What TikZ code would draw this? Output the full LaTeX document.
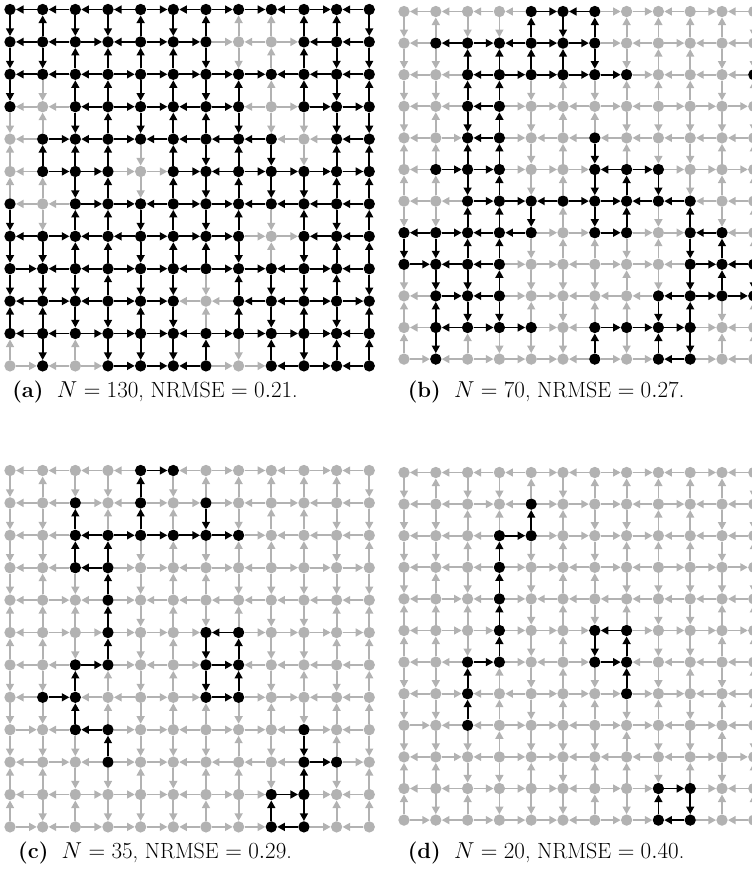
\documentclass[tikz,border=0pt]{standalone}
\usetikzlibrary{arrows.meta}
\definecolor{lg}{RGB}{178,178,178}
\tikzset{
  bn/.style={circle,fill=black,inner sep=0pt,minimum size=8.5pt},
  gn/.style={circle,fill=lg,inner sep=0pt,minimum size=8.5pt},
  be/.style={draw=black,line width=1.35pt,-{Triangle[length=5.7pt,width=5.9pt]}},
  ge/.style={draw=lg,line width=1.35pt,-{Triangle[length=5.7pt,width=5.9pt]}},
  capt/.style={anchor=base,font=\fontsize{16.5}{19}\selectfont}
}
% horizontal edge directions: 1 = arrow to the right, 0 = to the left
\def\HD{%
0/{0,0,0,0,1,0,1,1,0,1,0},
1/{0,0,1,0,1,1,1,0,1,0,0},
2/{0,0,0,1,1,1,1,1,0,0,0},
3/{0,0,0,1,1,0,1,0,1,1,1},
4/{0,1,0,1,0,0,0,0,0,0,0},
5/{0,1,1,1,1,1,0,1,1,1,1},
6/{0,0,1,1,0,1,1,0,0,0,0},
7/{0,1,0,0,1,1,1,1,1,0,0},
8/{1,0,0,1,1,0,1,1,0,1,0},
9/{0,1,0,1,1,0,0,0,0,1,1},
10/{0,0,1,1,1,0,1,1,1,1,0},
11/{1,0,1,1,1,0,1,1,0,1,0}}
% vertical edge directions: 1 = arrow down, 0 = up
\def\VD{%
0/{1,0,1,1,0,1,0,0,0,0,0,1},
1/{1,1,0,0,0,0,1,1,0,0,1,1},
2/{1,1,0,0,1,0,1,0,0,0,1,0},
3/{1,0,1,0,1,0,0,1,1,1,1,1},
4/{0,0,0,0,1,0,1,0,1,1,0,0},
5/{0,0,1,0,1,0,1,0,1,1,0,0},
6/{1,1,0,0,1,0,1,0,1,0,1,0},
7/{1,1,0,0,1,0,0,1,0,1,0,0},
8/{1,1,1,0,1,1,1,0,1,1,0,1},
9/{0,0,1,1,0,1,0,0,1,0,1,0},
10/{0,1,0,1,1,1,0,1,0,1,0,0}}
% node states per panel (1 = black)
\def\NA{%
0/{1,1,1,1,1,1,1,1,1,1,1,1},
1/{1,1,1,1,1,1,1,0,0,1,1,1},
2/{1,1,1,1,1,1,1,1,1,1,1,1},
3/{1,0,1,1,1,1,1,1,0,1,1,1},
4/{0,1,1,1,1,1,1,1,1,0,1,1},
5/{0,1,1,1,0,1,1,1,1,1,1,1},
6/{1,0,1,1,1,1,1,1,1,1,1,1},
7/{1,1,1,1,1,1,1,1,0,1,1,1},
8/{1,1,1,1,1,1,1,1,1,1,1,1},
9/{1,1,1,1,1,1,0,1,1,1,1,1},
10/{1,1,1,1,1,1,1,1,1,1,1,1},
11/{0,1,0,1,1,1,1,0,1,1,1,1}}
\def\NB{%
0/{0,0,0,0,1,1,1,0,0,0,0,0},
1/{0,1,1,1,1,1,1,0,0,0,0,0},
2/{0,0,1,1,1,1,1,1,0,0,0,1},
3/{0,0,1,1,0,0,0,0,0,0,0,0},
4/{0,0,1,1,0,0,1,0,0,0,0,0},
5/{0,1,1,1,0,0,1,1,1,0,0,0},
6/{0,0,1,1,1,1,1,1,1,1,0,0},
7/{1,1,1,1,1,0,1,1,0,1,1,0},
8/{1,1,1,1,0,0,0,0,0,1,1,1},
9/{0,1,1,1,0,0,0,0,1,1,1,1},
10/{0,1,1,1,1,0,1,1,1,1,0,0},
11/{0,1,0,0,0,0,1,0,1,1,0,0}}
\def\NC{%
0/{0,0,0,0,1,1,0,0,0,0,0,0},
1/{0,0,1,0,1,0,1,0,0,0,0,0},
2/{0,0,1,1,1,1,1,1,0,0,0,0},
3/{0,0,1,1,0,0,0,0,0,0,0,0},
4/{0,0,0,1,0,0,0,0,0,0,0,0},
5/{0,0,0,1,0,0,1,1,0,0,0,0},
6/{0,0,1,1,0,0,1,1,0,0,0,0},
7/{0,1,1,0,0,0,1,1,0,0,0,0},
8/{0,0,1,1,0,0,0,0,0,1,0,0},
9/{0,0,0,1,0,0,0,0,0,1,1,0},
10/{0,0,0,0,0,0,0,0,1,1,0,0},
11/{0,0,0,0,0,0,0,0,1,1,0,0}}
\def\ND{%
0/{0,0,0,0,0,0,0,0,0,0,0,0},
1/{0,0,0,0,1,0,0,0,0,0,0,0},
2/{0,0,0,1,1,0,0,0,0,0,0,0},
3/{0,0,0,1,0,0,0,0,0,0,0,0},
4/{0,0,0,1,0,0,0,0,0,0,0,0},
5/{0,0,0,1,0,0,1,1,0,0,0,0},
6/{0,0,1,1,0,0,1,1,0,0,0,0},
7/{0,0,1,0,0,0,0,1,0,0,0,0},
8/{0,0,1,0,0,0,0,0,0,0,0,0},
9/{0,0,0,0,0,0,0,0,0,0,0,0},
10/{0,0,0,0,0,0,0,0,1,1,0,0},
11/{0,0,0,0,0,0,0,0,1,1,0,0}}
% #1 name, #2 x0, #3 y0, #4 dx, #5 dy, #6 node data
\newcommand\drawpanel[6]{%
  \foreach \r/\row in #6 {%
    \foreach \b [count=\c from 0] in \row {%
      \expandafter\xdef\csname st#1-\r-\c\endcsname{\b}%
      \ifnum\b=1
        \node[bn] (#1-\r-\c) at ({#2+\c*#4},{#3+\r*#5}) {};
      \else
        \node[gn] (#1-\r-\c) at ({#2+\c*#4},{#3+\r*#5}) {};
      \fi
    }%
  }%
  \foreach \r/\row in \HD {%
    \foreach \d [count=\k from 0] in \row {%
      \pgfmathtruncatemacro\kk{\k+1}%
      \edef\sa{\csname st#1-\r-\k\endcsname}\edef\sb{\csname st#1-\r-\kk\endcsname}%
      \ifnum\numexpr\sa*\sb\relax=1 \def\es{be}\else\def\es{ge}\fi
      \ifnum\d=1
        \draw[\es] (#1-\r-\k) -- (#1-\r-\kk);
      \else
        \draw[\es] (#1-\r-\kk) -- (#1-\r-\k);
      \fi
    }%
  }%
  \foreach \r/\row in \VD {%
    \foreach \d [count=\c from 0] in \row {%
      \pgfmathtruncatemacro\rr{\r+1}%
      \edef\sa{\csname st#1-\r-\c\endcsname}\edef\sb{\csname st#1-\rr-\c\endcsname}%
      \ifnum\numexpr\sa*\sb\relax=1 \def\es{be}\else\def\es{ge}\fi
      \ifnum\d=1
        \draw[\es] (#1-\r-\c) -- (#1-\rr-\c);
      \else
        \draw[\es] (#1-\rr-\c) -- (#1-\r-\c);
      \fi
    }%
  }%
}
\begin{document}
\begin{tikzpicture}[x=0.75pt,y=-0.75pt]
\useasboundingbox (0,0) rectangle (752,883);
\clip (0,0) rectangle (752,883);
\drawpanel{a}{10}{9.5}{32.66}{32.4}{\NA}
\drawpanel{b}{404}{11.5}{31.8}{31.6}{\NB}
\drawpanel{c}{10}{470.5}{32.66}{32.4}{\NC}
\drawpanel{d}{404}{472.5}{31.8}{31.6}{\ND}
\node[capt] (ca) at (155,397) {\textbf{(a)}\ \ $N=130$, NRMSE $=0.21$.};
\node[capt] (cb) at (546,397) {\textbf{(b)}\ \ $N=70$, NRMSE $=0.27$.};
\node[capt] (cc) at (155,858) {\textbf{(c)}\ \ $N=35$, NRMSE $=0.29$.};
\node[capt] (cd) at (546,858) {\textbf{(d)}\ \ $N=20$, NRMSE $=0.40$.};
\end{tikzpicture}
\end{document}
